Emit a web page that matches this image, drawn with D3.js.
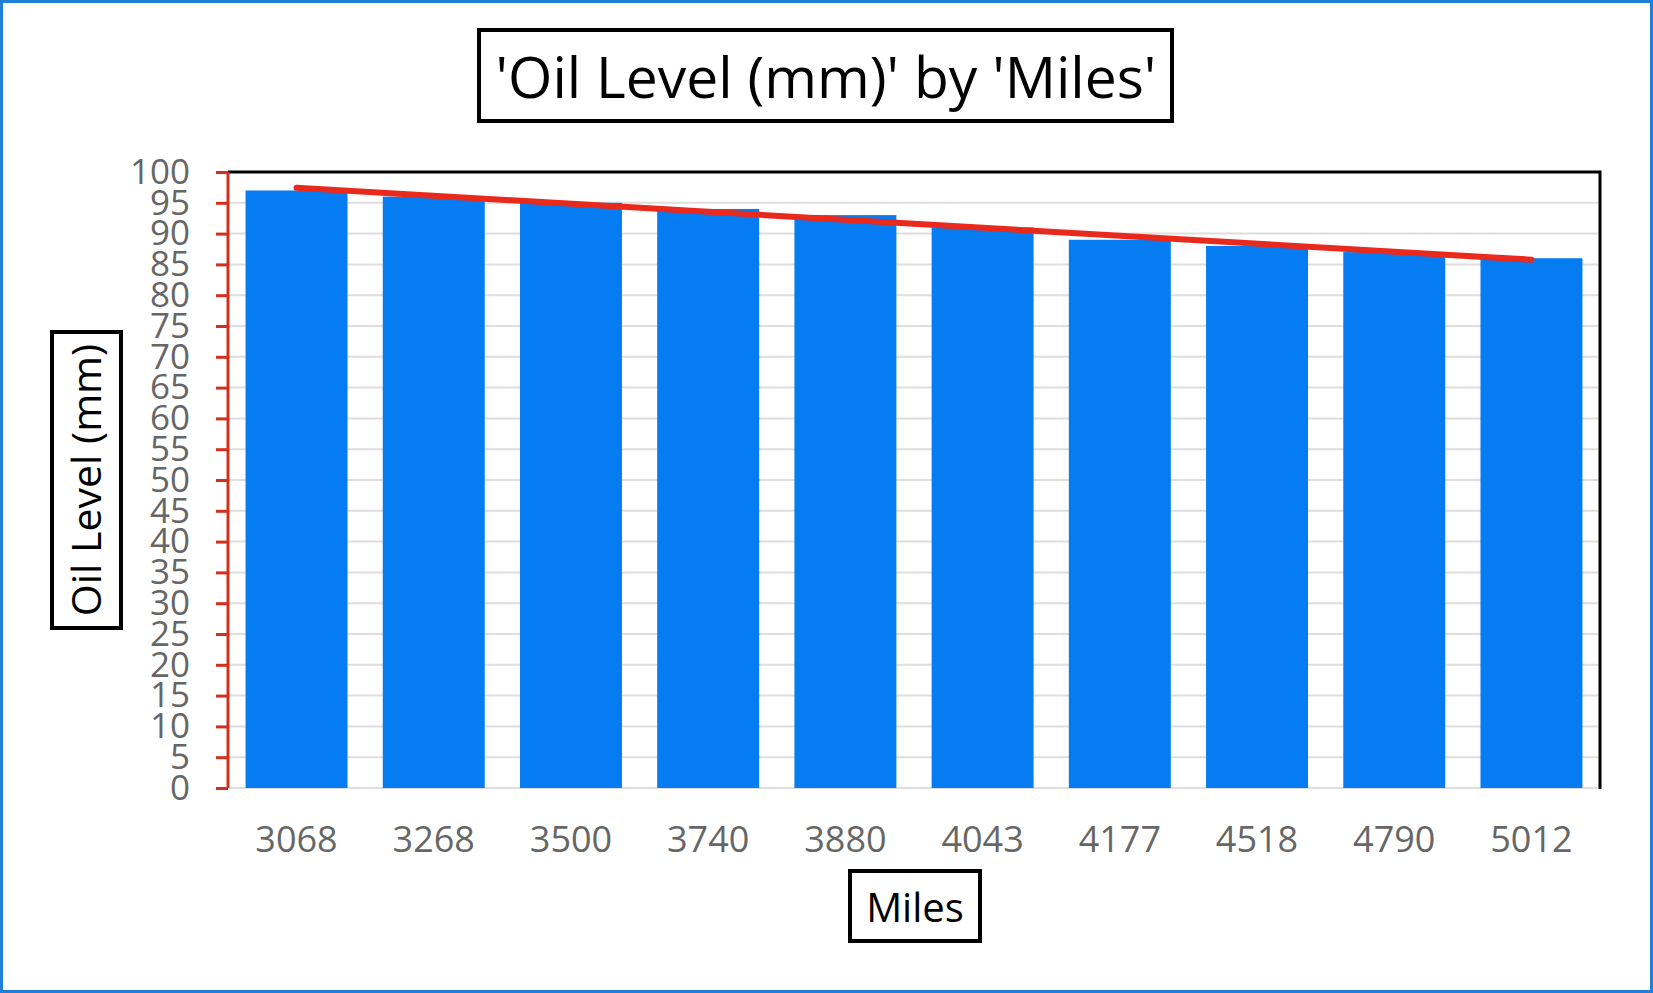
<!DOCTYPE html>
<html>
<head>
<meta charset="utf-8">
<script src="https://cdn.jsdelivr.net/npm/d3@7"></script>
<style>
  html, body { margin: 0; padding: 0; background: #fff; }
  svg { display: block; }
  text { font-family: "Open Sans", "Noto Sans", sans-serif; }
</style>
</head>
<body>
<svg id="chart" width="1653" height="993"></svg>
<script>
var miles = ["3068", "3268", "3500", "3740", "3880", "4043", "4177", "4518", "4790", "5012"];
var oilLevel = [97, 96, 95, 94, 93, 91, 89, 88, 87, 86];
var yTicks = [0, 5, 10, 15, 20, 25, 30, 35, 40, 45, 50, 55, 60, 65, 70, 75, 80, 85, 90, 95, 100];
var titleText = "'Oil Level (mm)' by 'Miles'";
var yTitle = "Oil Level (mm)";
var xTitle = "Miles";

var svg = d3.select("#chart");
var W = 1653, H = 993;
// note: "top" is taken by window.top, so plot edges get their own names
var plotL = 228, plotR = 1600, plotT = 172, plotB = 788;

svg.append("rect")
    .attr("x", 0).attr("y", 0).attr("width", W).attr("height", H)
    .attr("fill", "#fff");

var x = d3.scaleBand()
    .domain(miles)
    .range([plotL, plotR])
    .paddingInner(0.257)
    .paddingOuter(0.128);

var y = d3.scaleLinear()
    .domain([0, 100])
    .range([plotB, plotT]);

// gridlines
svg.append("g")
    .selectAll("line")
    .data(yTicks)
    .enter().append("line")
    .attr("x1", plotL).attr("x2", plotR - 2)
    .attr("y1", function(d) { return y(d); })
    .attr("y2", function(d) { return y(d); })
    .attr("stroke", "#dedede")
    .attr("stroke-width", 2);

// bars
svg.append("g")
    .selectAll("rect")
    .data(oilLevel)
    .enter().append("rect")
    .attr("x", function(d, i) { return x(miles[i]); })
    .attr("y", function(d) { return y(d); })
    .attr("width", x.bandwidth())
    .attr("height", function(d) { return y(0) - y(d); })
    .attr("fill", "#057cf2");

// top + right frame
svg.append("path")
    .attr("d", "M" + plotL + "," + plotT + "H" + plotR + "V" + (plotB + 1))
    .attr("fill", "none")
    .attr("stroke", "#000")
    .attr("stroke-width", 3);

// y axis
var yAxis = svg.append("g")
    .attr("transform", "translate(" + plotL + ",0)")
    .call(d3.axisLeft(y).tickValues(yTicks).tickSize(12).tickPadding(26));
yAxis.select(".domain").attr("stroke", "#d42e1c").attr("stroke-width", 3)
    .attr("d", "M0," + plotT + "V" + plotB);
yAxis.selectAll(".tick line").attr("stroke", "#d42e1c").attr("stroke-width", 3);
yAxis.selectAll(".tick text")
    .attr("fill", "#666")
    .style("font-size", "35px")
    .style("font-family", "'Open Sans', sans-serif");

// x axis labels
var xAxis = svg.append("g")
    .attr("transform", "translate(0," + plotB + ")")
    .call(d3.axisBottom(x).tickSize(0).tickPadding(38));
xAxis.select(".domain").remove();
xAxis.selectAll(".tick text")
    .attr("fill", "#666")
    .style("font-size", "36px")
    .style("font-family", "'Open Sans', sans-serif");

// linear trend line
var n = oilLevel.length;
var mx = d3.mean(oilLevel, function(d, i) { return i; });
var my = d3.mean(oilLevel);
var sxy = d3.sum(oilLevel, function(d, i) { return (i - mx) * (d - my); });
var sxx = d3.sum(oilLevel, function(d, i) { return (i - mx) * (i - mx); });
var slope = sxy / sxx, intercept = my - slope * mx;

svg.append("line")
    .attr("x1", x(miles[0]) + x.bandwidth() / 2)
    .attr("y1", y(intercept))
    .attr("x2", x(miles[n - 1]) + x.bandwidth() / 2)
    .attr("y2", y(intercept + slope * (n - 1)))
    .attr("stroke", "#e8291c")
    .attr("stroke-width", 6)
    .attr("stroke-linecap", "round");

// title box
svg.append("rect")
    .attr("x", 479).attr("y", 30).attr("width", 693).attr("height", 91)
    .attr("fill", "#fff").attr("stroke", "#000").attr("stroke-width", 4);
svg.append("text")
    .attr("x", 826).attr("y", 98)
    .attr("text-anchor", "middle")
    .style("font-size", "57px")
    .attr("fill", "#000")
    .text(titleText);

// y title box
svg.append("rect")
    .attr("x", 52).attr("y", 332).attr("width", 69).attr("height", 296)
    .attr("fill", "#fff").attr("stroke", "#000").attr("stroke-width", 4);
svg.append("text")
    .attr("transform", "translate(101,480) rotate(-90)")
    .attr("text-anchor", "middle")
    .style("font-size", "41px")
    .attr("fill", "#000")
    .text(yTitle);

// x title box
svg.append("rect")
    .attr("x", 850).attr("y", 871).attr("width", 130).attr("height", 70)
    .attr("fill", "#fff").attr("stroke", "#000").attr("stroke-width", 4);
svg.append("text")
    .attr("x", 915).attr("y", 922)
    .attr("text-anchor", "middle")
    .style("font-size", "40px")
    .attr("fill", "#000")
    .text(xTitle);

// outer blue border
svg.append("rect")
    .attr("x", 1.5).attr("y", 1.5).attr("width", W - 3).attr("height", H - 3)
    .attr("fill", "none")
    .attr("stroke", "#1f7fd8")
    .attr("stroke-width", 3);
</script>
</body>
</html>
